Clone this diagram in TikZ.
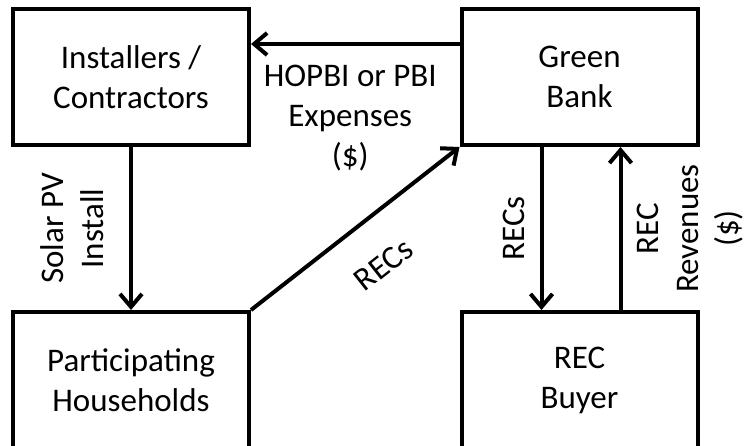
\documentclass[tikz,border=0pt]{standalone}
\usepackage{fontspec}
\setmainfont{Carlito}
\usetikzlibrary{calc,arrows.meta,positioning}
\tikzset{
  block/.style={draw,line width=4pt,minimum width=236pt,minimum height=136pt,align=center,inner sep=0pt},
  flow/.style={line width=4pt,-{Straight Barb[length=13pt,width=22pt]}},
  lbl/.style={align=center,inner sep=0pt}
}

\begin{document}
\begin{tikzpicture}[x=1pt,y=1pt,font=\fontsize{33}{40}\selectfont]
\useasboundingbox[fill=white] (0,0) rectangle (744,-446);
\node[block] (installers) at (131,-77) {Installers /\\Contractors};
\node[block] (bank) at (579.5,-77) {Green\\Bank};
\node[block] (households) at (131,-380) {Participating\\Households};
\node[block] (buyer) at (579.5,-380) {REC\\Buyer};

\draw[flow] ([yshift=33pt]bank.west) -- ([yshift=33pt]installers.east);
\draw[flow] (installers) -- (households);
\draw[flow] (households.north east) -- (bank.south west);
\draw[flow] ([xshift=-38pt]bank.south) -- ([xshift=-38pt]buyer.north);
\draw[flow] ([xshift=41pt]buyer.north) -- ([xshift=41pt]bank.south);

\node[lbl,anchor=north] (expenses) at ($(installers.east)!0.5!(bank.west)+(-5,12)$) {HOPBI or PBI\\Expenses\\(\$)};
\node[lbl,anchor=south,rotate=90] (install) at ($(installers.south)!0.5!(households.north)+(-27,0)$) {Solar PV\\Install};
\node[lbl,anchor=north,rotate=38.2] (diagrecs) at ($(households.north east)!0.5!(bank.south west)!35pt!-90:(bank.south west)$) {RECs};
\node[lbl,anchor=south,rotate=90] (downrecs) at ($(bank.south)!0.5!(buyer.north)+(-55,0)$) {RECs};
\node[lbl,anchor=north,rotate=90] (revenues) at ($(bank.south)!0.5!(buyer.north)+(57,0)$) {REC\\Revenues\\(\$)};
\end{tikzpicture}
\end{document}
